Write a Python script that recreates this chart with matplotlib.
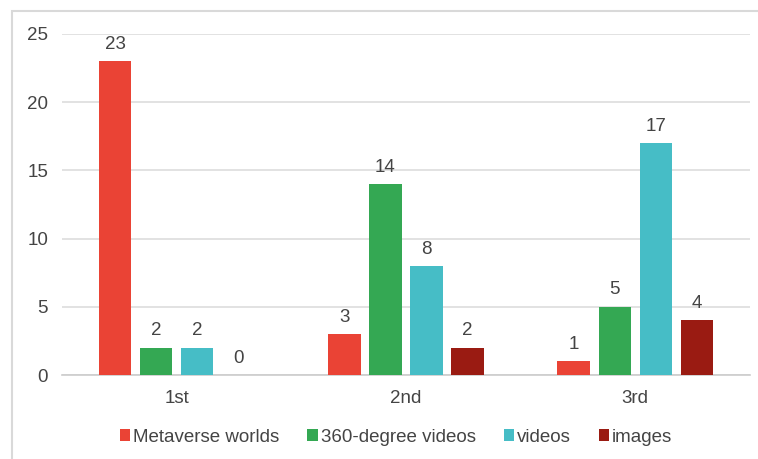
import numpy as np
import matplotlib
matplotlib.use('Agg')
import matplotlib.pyplot as plt
from matplotlib.patches import Rectangle

plt.rcParams['font.family'] = ['Liberation Sans', 'DejaVu Sans']

# data
categories = ['1st', '2nd', '3rd']
series_names = ['Metaverse worlds', '360-degree videos', 'videos', 'images']
metaverse_worlds = [23, 3, 1]
degree360_videos = [2, 14, 5]
videos = [2, 8, 17]
images = [0, 2, 4]
colors = ['#EA4335', '#34A853', '#46BDC6', '#9A1B12']

values = [metaverse_worlds, degree360_videos, videos, images]
text_color = '#444444'
fs = 13.5

fig = plt.figure(figsize=(7.58, 4.59), dpi=100)
ax = fig.add_axes([62 / 758, 1 - 375 / 459, (750 - 62) / 758, (375 - 34) / 459])

x = np.arange(len(categories))
step = 0.179
width = 0.142
bars = []
for i, (name, vals, c) in enumerate(zip(series_names, values, colors)):
    pos = x + (i - 1.5) * step
    b = ax.bar(pos, vals, width, color=c, label=name, zorder=3)
    bars.append(b)
    for p, v in zip(pos, vals):
        ax.annotate(str(v), (p, v), xytext=(0, 6), textcoords='offset points',
                    ha='center', va='bottom', fontsize=fs, color=text_color)

ax.set_xlim(-0.5, 2.5)
ax.set_ylim(0, 25)
ax.set_yticks([0, 5, 10, 15, 20, 25])
ax.set_xticks(x)
ax.set_xticklabels(categories)
ax.tick_params(axis='both', length=0, labelsize=fs, labelcolor=text_color)
ax.tick_params(axis='y', pad=10)
ax.tick_params(axis='x', pad=11)
ax.grid(axis='y', color='#dddddd', linewidth=1.2, zorder=0)
for s in ['top', 'right', 'left']:
    ax.spines[s].set_visible(False)
ax.spines['bottom'].set_color('#cccccc')
ax.spines['bottom'].set_linewidth(1.2)

fig.legend(handles=bars, loc='center', bbox_to_anchor=(396 / 758, 1 - 437 / 459),
           ncol=4, frameon=False, fontsize=fs, handlelength=0.55, handleheight=0.55,
           handletextpad=0.15, columnspacing=1.5, labelcolor=text_color)

# outer frame
fig.patches.append(Rectangle((12 / 758, -0.1), 1.0, 1.1 - 11 / 459,
                             transform=fig.transFigure, fill=False,
                             edgecolor='#d9d9d9', linewidth=1.5))

fig.savefig('out.png', dpi=100, facecolor='white')
